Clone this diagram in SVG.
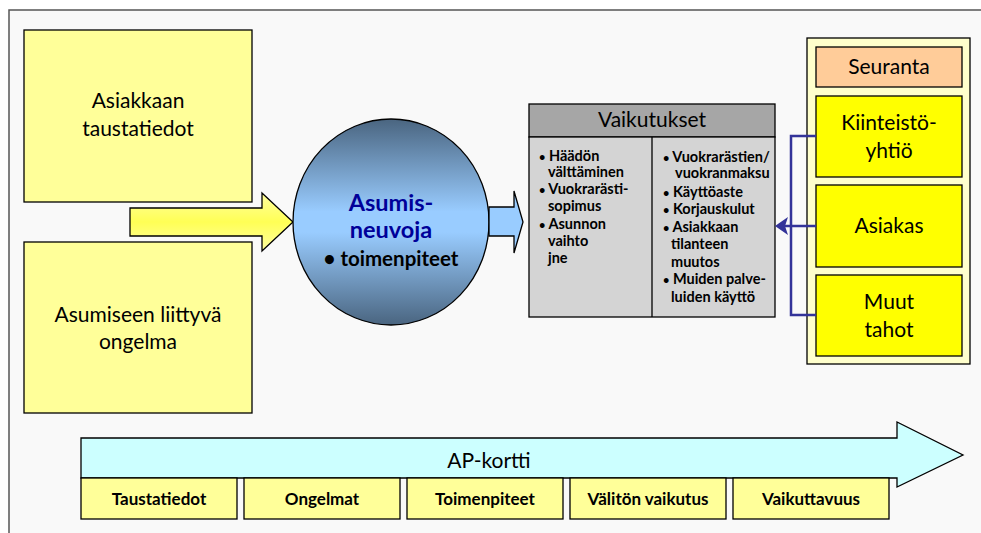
<svg xmlns="http://www.w3.org/2000/svg" width="981" height="533" viewBox="0 0 981 533">
  <defs>
    <linearGradient id="ballGrad" x1="0" y1="0" x2="0" y2="1">
      <stop offset="0" stop-color="#4a6580"/>
      <stop offset="0.45" stop-color="#99ccff"/>
      <stop offset="0.55" stop-color="#99ccff"/>
      <stop offset="1" stop-color="#4a6580"/>
    </linearGradient>
    <linearGradient id="yArrowGrad" x1="0" y1="0" x2="0" y2="1">
      <stop offset="0" stop-color="#ffffa0"/>
      <stop offset="0.5" stop-color="#ffff55"/>
      <stop offset="1" stop-color="#ffffa0"/>
    </linearGradient>
    <style>
      text { font-family: Lato, "Liberation Sans", sans-serif; fill: #000; }
      .lbl { font-size: 21px; text-anchor: middle; }
      .small { font-size: 14.5px; font-weight: bold; }
      .dot { font-size: 11px; }
      .tab { font-size: 17px; font-weight: bold; text-anchor: middle; }
      .edge { stroke: #000; stroke-width: 1.3; }
      .pale { fill: #ffff99; }
      .bright { fill: #ffff00; }
      .conn { fill: none; stroke: #333399; stroke-width: 2.5; }
    </style>
  </defs>

  <!-- page frame -->
  <rect x="0" y="0" width="981" height="533" fill="#ffffff"/>
  <rect x="9" y="10" width="972" height="523" fill="#f9f9f9"/>
  <path d="M9,533 V10 H981" fill="none" stroke="#555" stroke-width="1.5"/>

  <!-- input boxes -->
  <g id="taustatiedot">
    <rect class="pale edge" x="24" y="30" width="228" height="172"/>
    <text class="lbl" x="138" y="108">Asiakkaan</text>
    <text class="lbl" x="138" y="136">taustatiedot</text>
  </g>
  <g id="ongelma">
    <rect class="pale edge" x="24" y="242" width="228" height="171"/>
    <text class="lbl" x="138" y="322">Asumiseen liittyvä</text>
    <text class="lbl" x="138" y="349">ongelma</text>
  </g>

  <!-- flow arrows -->
  <g id="arrow-in">
    <path class="edge" d="M130,208 H262 V193 L293,222 L262,251 V236 H130 Z" fill="url(#yArrowGrad)"/>
  </g>

  <g id="neuvoja">
    <ellipse class="edge" cx="391" cy="222" rx="98" ry="103" fill="url(#ballGrad)"/>
    <text x="391" y="211" font-size="23.5" font-weight="bold" text-anchor="middle" style="fill:#000099">Asumis-</text>
    <text x="391" y="238" font-size="23.5" font-weight="bold" text-anchor="middle" style="fill:#000099">neuvoja</text>
    <text x="391" y="266" font-size="20.5" font-weight="bold" text-anchor="middle">• toimenpiteet</text>
  </g>

  <g id="arrow-out">
    <path class="edge" d="M489,207 H514 V191 L523,222 L514,253 V236 H489 Z" fill="#99ccff"/>
  </g>

  <!-- effects table -->
  <g id="vaikutukset">
    <rect class="edge" x="529" y="104" width="246" height="33" fill="#a6a6a6"/>
    <rect class="edge" x="529" y="137" width="246" height="180" fill="#d4d4d4"/>
    <line class="edge" x1="652" y1="137" x2="652" y2="317"/>
    <text class="lbl" x="652" y="127">Vaikutukset</text>
    <g class="small">
      <text x="539" y="161"><tspan class="dot">•</tspan> Häädön</text>
      <text x="548" y="177">välttäminen</text>
      <text x="539" y="194"><tspan class="dot">•</tspan> Vuokrarästi-</text>
      <text x="548" y="211">sopimus</text>
      <text x="539" y="229"><tspan class="dot">•</tspan> Asunnon</text>
      <text x="548" y="246">vaihto</text>
      <text x="548" y="263">jne</text>
      <text x="663" y="162"><tspan class="dot">•</tspan> Vuokrarästien/</text>
      <text x="675" y="178">vuokranmaksu</text>
      <text x="663" y="197"><tspan class="dot">•</tspan> Käyttöaste</text>
      <text x="663" y="214"><tspan class="dot">•</tspan> Korjauskulut</text>
      <text x="663" y="232"><tspan class="dot">•</tspan> Asiakkaan</text>
      <text x="671" y="249">tilanteen</text>
      <text x="671" y="267">muutos</text>
      <text x="663" y="284"><tspan class="dot">•</tspan> Muiden palve-</text>
      <text x="671" y="302">luiden käyttö</text>
    </g>
  </g>

  <!-- follow-up panel -->
  <g id="seuranta-panel">
    <rect class="edge" x="807" y="38" width="163" height="326" fill="#ffffcc"/>
  </g>
  <g id="seuranta">
    <rect class="edge" x="816" y="47" width="146" height="40" fill="#ffcc99"/>
    <text class="lbl" x="889" y="74">Seuranta</text>
  </g>
  <g id="kiinteistoyhtio">
    <rect class="bright edge" x="816" y="96" width="146" height="81"/>
    <text class="lbl" x="889" y="130">Kiinteistö-</text>
    <text class="lbl" x="889" y="158">yhtiö</text>
  </g>
  <g id="asiakas">
    <rect class="bright edge" x="816" y="185" width="146" height="82"/>
    <text class="lbl" x="889" y="233">Asiakas</text>
  </g>
  <g id="muut-tahot">
    <rect class="bright edge" x="816" y="275" width="146" height="81"/>
    <text class="lbl" x="889" y="309">Muut</text>
    <text class="lbl" x="889" y="337">tahot</text>
  </g>

  <g id="connectors">
    <path class="conn" d="M816,136 H791 V315 H816"/>
    <path class="conn" d="M816,226 H784" stroke-width="3.5"/>
    <path d="M775,226 L788,217 L785,226 L788,235 Z" fill="#333399"/>
  </g>

  <!-- AP card timeline -->
  <g id="ap-kortti">
    <path class="edge" d="M81,438 H897 V422 L963,455 L897,487 V478 H81 Z" fill="#ccffff"/>
    <text class="lbl" x="489" y="468">AP-kortti</text>
  </g>
  <g id="tab-taustatiedot">
    <rect class="pale edge" x="81" y="478" width="156" height="41"/>
    <text class="tab" x="159" y="505">Taustatiedot</text>
  </g>
  <g id="tab-ongelmat">
    <rect class="pale edge" x="244" y="478" width="156" height="41"/>
    <text class="tab" x="322" y="505">Ongelmat</text>
  </g>
  <g id="tab-toimenpiteet">
    <rect class="pale edge" x="407" y="478" width="156" height="41"/>
    <text class="tab" x="485" y="505">Toimenpiteet</text>
  </g>
  <g id="tab-valiton">
    <rect class="pale edge" x="570" y="478" width="156" height="41"/>
    <text class="tab" x="648" y="505">Välitön vaikutus</text>
  </g>
  <g id="tab-vaikuttavuus">
    <rect class="pale edge" x="733" y="478" width="156" height="41"/>
    <text class="tab" x="811" y="505">Vaikuttavuus</text>
  </g>
</svg>
